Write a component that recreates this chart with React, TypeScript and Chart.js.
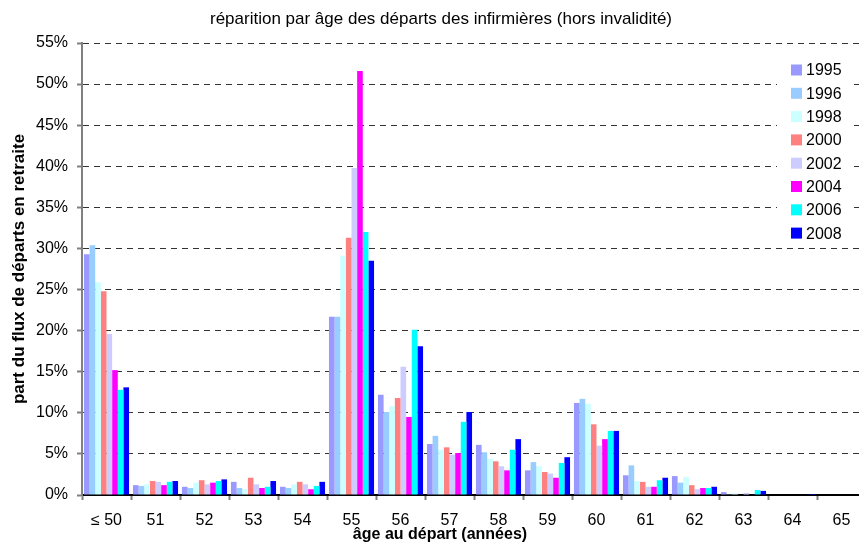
import React, { useEffect, useRef } from "react";
import { Chart, registerables } from "chart.js";

Chart.register(...registerables);

const categories = ["≤ 50", "51", "52", "53", "54", "55", "56", "57", "58", "59", "60", "61", "62", "63", "64", "65"];
const seriesLabels = ["1995", "1996", "1998", "2000", "2002", "2004", "2006", "2008"];
const seriesColors = ["#9999FF", "#99CCFF", "#CCFFFF", "#FF8080", "#CCCCFF", "#FF00FF", "#00FFFF", "#0000FF"];

const v1995 = [29.3, 1.2, 1.0, 1.6, 1.0, 21.7, 12.2, 6.2, 6.1, 3.0, 11.2, 2.4, 2.3, 0.35, 0, 0];
const v1996 = [30.4, 1.1, 0.85, 0.85, 0.85, 21.7, 10.1, 7.2, 5.2, 4.0, 11.7, 3.6, 1.5, 0.1, 0, 0];
const v1998 = [25.9, 1.3, 1.5, 0.7, 1.3, 29.1, 10.8, 5.5, 4.4, 3.5, 11.1, 1.7, 2.2, 0.2, 0, 0];
const v2000 = [24.8, 1.7, 1.8, 2.1, 1.6, 31.3, 11.8, 5.8, 4.1, 2.8, 8.6, 1.6, 1.2, 0, 0, 0];
const v2002 = [19.6, 1.6, 1.3, 1.3, 1.3, 39.8, 15.6, 4.9, 3.5, 2.6, 6.0, 1.0, 0.7, 0.25, 0, 0];
const v2004 = [15.2, 1.2, 1.5, 0.85, 0.7, 51.6, 9.5, 5.1, 3.0, 2.1, 6.8, 1.0, 0.85, 0, 0, 0];
const v2006 = [12.8, 1.6, 1.7, 1.0, 1.1, 32.0, 20.1, 8.9, 5.5, 3.9, 7.8, 1.8, 0.85, 0.6, 0, 0];
const v2008 = [13.1, 1.7, 1.9, 1.7, 1.6, 28.5, 18.1, 10.1, 6.8, 4.6, 7.8, 2.1, 1.0, 0.5, 0.12, 0];
const seriesValues = [v1995, v1996, v1998, v2000, v2002, v2004, v2006, v2008];

const yTickValues = [0, 5, 10, 15, 20, 25, 30, 35, 40, 45, 50, 55];

const titleText = "réparition par âge des départs des infirmières (hors invalidité)";
const xTitleText = "âge au départ (années)";
const yTitleText = "part du flux de départs en retraite";

const FONT = "'Liberation Sans', Arial, sans-serif";

const textPlugin = {
  id: "texts",
  afterDraw(chart: any) {
    const ctx = chart.ctx;
    ctx.save();
    ctx.fillStyle = "#000";
    ctx.textAlign = "center";
    ctx.textBaseline = "middle";
    ctx.font = `17px ${FONT}`;
    ctx.fillText(titleText, 441, 19);
    ctx.font = `bold 16px ${FONT}`;
    ctx.fillText(xTitleText, 440, 535);

    // legend box
    const bx = 777, by = 52, bw = 77, bh = 193;
    ctx.fillStyle = "#fff";
    ctx.fillRect(bx, by, bw, bh);
    ctx.font = `16px ${FONT}`;
    ctx.textAlign = "left";
    chart.data.datasets.forEach((ds: any, i: number) => {
      const cy = 70 + i * 23.3;
      ctx.fillStyle = ds.backgroundColor;
      ctx.fillRect(791, cy - 5.5, 11, 11);
      ctx.fillStyle = "#000";
      ctx.fillText(ds.label, 806, cy + 1);
    });
    ctx.restore();
  },
};

export default function App() {
  const ref = useRef<HTMLCanvasElement | null>(null);
  useEffect(() => {
    if (!ref.current) return;
    const chart = new Chart(ref.current, {
      type: "bar",
      data: {
        labels: categories,
        datasets: seriesLabels.map((label, i) => ({
          label,
          data: seriesValues[i],
          backgroundColor: seriesColors[i],
          borderWidth: 0,
          categoryPercentage: 0.92,
          barPercentage: 1.0,
        })),
      },
      options: {
        animation: false,
        responsive: false,
        devicePixelRatio: 1,
        layout: { padding: { top: 43, left: 0, right: 4, bottom: 0 } },
        plugins: {
          legend: { display: false },
          title: { display: false },
          tooltip: { enabled: false },
        },
        scales: {
          x: {
            afterFit: (scale: any) => {
              scale.height = 49;
            },
            grid: {
              display: true,
              offset: true,
              drawOnChartArea: false,
              drawTicks: true,
              tickLength: 5,
              tickColor: "#808080",
              tickWidth: 2,
            },
            border: { display: true, color: "#000", width: 2 },
            ticks: {
              color: "#000",
              font: { family: FONT, size: 16 },
              padding: 11,
              maxRotation: 0,
              autoSkip: false,
            },
          },
          y: {
            min: 0,
            max: 55,
            afterFit: (scale: any) => {
              scale.width = 82;
            },
            afterBuildTicks: (scale: any) => {
              scale.ticks = yTickValues.map((v) => ({ value: v }));
            },
            grid: {
              color: (c: any) => (c.tick && c.tick.value === 0 ? "rgba(0,0,0,0)" : "#333"),
              lineWidth: 1,
              drawTicks: true,
              tickLength: 5,
              tickColor: "#808080",
              tickWidth: 2,
              tickBorderDash: [],
            },
            border: { display: true, color: "#808080", width: 2, dash: [6, 5] },
            ticks: {
              color: "#000",
              font: { family: FONT, size: 16 },
              padding: 9,
              callback: (v: any) => `${v}%`,
            },
            title: {
              display: true,
              text: yTitleText,
              color: "#000",
              font: { family: FONT, size: 17, weight: "bold" },
              padding: { top: 9, bottom: 0 },
            },
          },
        },
      },
      plugins: [textPlugin],
    } as any);
    return () => chart.destroy();
  }, []);
  return (
    <div style={{ position: "fixed", left: 0, top: 0, width: 859, height: 544, overflow: "hidden", background: "#fff" }}>
      <canvas ref={ref} width={870} height={544} style={{ width: 870, height: 544, display: "block" }} />
    </div>
  );
}
